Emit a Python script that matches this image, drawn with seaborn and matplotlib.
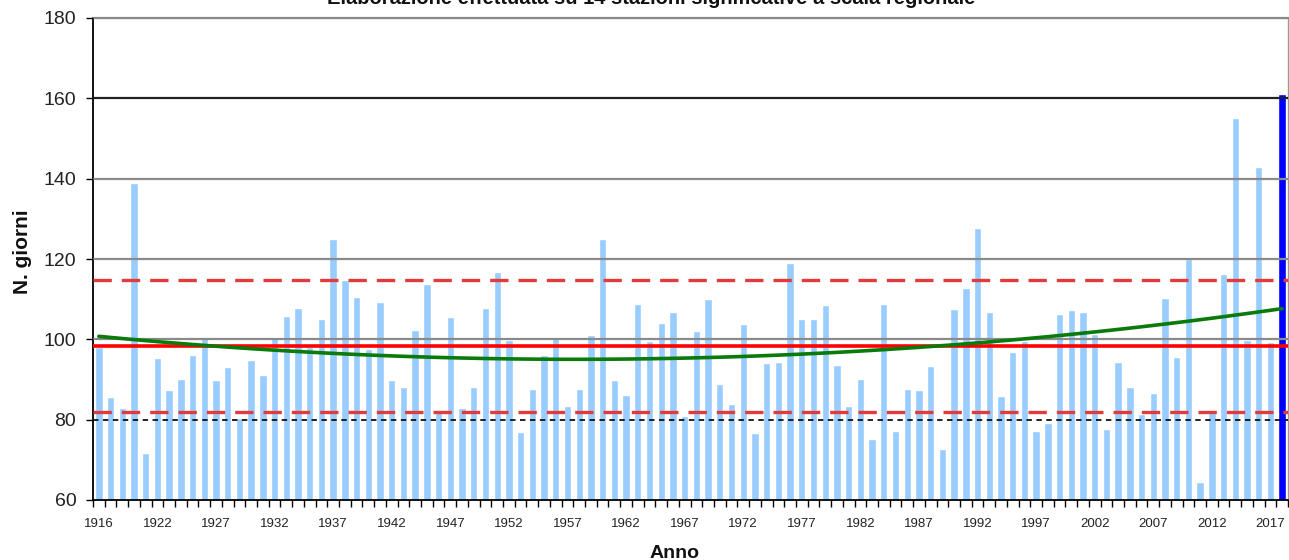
import numpy as np
import pandas as pd
import matplotlib
matplotlib.use("Agg")
import matplotlib.pyplot as plt
import seaborn as sns

# Numero di giorni per anno (media su 14 stazioni)
anni = list(range(1917, 2019))
giorni = [
    98.0, 85.7, 82.8, 138.8, 71.6, 95.3, 87.4, 90.1, 96.1, 100.5,
    90.0, 93.0, 80.3, 94.9, 91.0, 100.5, 105.9, 107.7, 98.2, 105.0,
    125.1, 114.8, 110.6, 97.5, 109.4, 89.9, 88.2, 102.3, 113.9, 82.0,
    105.5, 82.8, 88.2, 107.8, 116.8, 99.8, 77.0, 87.6, 96.1, 100.6,
    83.4, 87.6, 101.1, 125.0, 90.0, 86.2, 108.7, 99.7, 104.1, 106.9,
    81.0, 102.1, 110.0, 89.0, 83.8, 103.9, 76.6, 94.2, 94.4, 118.9,
    105.0, 105.0, 108.5, 93.6, 83.3, 90.2, 75.1, 108.7, 77.1, 87.6,
    87.4, 93.4, 72.8, 107.6, 112.9, 127.7, 106.7, 85.9, 96.8, 99.6,
    77.1, 79.1, 106.4, 107.3, 106.7, 101.3, 77.8, 94.3, 88.2, 81.4,
    86.7, 110.2, 95.5, 119.9, 64.6, 82.2, 116.3, 155.0, 99.8, 142.8,
    99.4, 161.1,
]
etichette_anni = [
    "1916", "1922", "1927", "1932", "1937", "1942", "1947", "1952",
    "1957", "1962", "1967", "1972", "1977", "1982", "1987", "1992",
    "1997", "2002", "2007", "2012", "2017",
]
titolo = "Elaborazione effettuata su 14 stazioni significative a scala regionale"

sns.set_theme(style="white")
plt.rcParams["font.family"] = ["Liberation Sans", "DejaVu Sans"]

df = pd.DataFrame({"anno": anni, "giorni": giorni})
df["serie"] = ["ultimo" if a == anni[-1] else "storico" for a in anni]

W, H = 1289, 560
fig = plt.figure(figsize=(W / 100, H / 100), dpi=100)
ax = fig.add_axes([93 / W, 1 - 500 / H, (1288 - 93) / W, (500 - 18) / H])

sns.barplot(data=df, x="anno", y="giorni", hue="serie",
            palette={"storico": "#99CCFF", "ultimo": "#0000FF"},
            dodge=False, width=0.63, saturation=1, legend=False, ax=ax)

pos = np.arange(len(giorni))
valori = np.array(giorni)

# media e deviazione standard
media = valori.mean()
sd = valori.std(ddof=1)
ax.axhline(media, color="#FF0000", lw=2.6, zorder=4)
for liv in (media + sd, media - sd):
    ax.axhline(liv, color="#E23B3B", lw=2.4, dashes=(5.5, 3), zorder=4)

# tendenza polinomiale di secondo grado
coef = np.polyfit(pos, valori, 2)
ax.plot(pos, np.polyval(coef, pos), color="#0A7A0A", lw=2.6, zorder=5)

# assi
ax.set_ylim(60, 180)
ax.set_xlim(-0.5, len(giorni) - 0.5)
yt = list(range(60, 181, 20))
ax.set_yticks(yt)
ax.set_xticks(pos[::5])
ax.set_xticklabels(etichette_anni)
ax.set_xticks(np.arange(-0.5, len(giorni), 1), minor=True)

ax.set_axisbelow(False)
ax.yaxis.grid(True, color="#8a8a8a", lw=1.6)
for gl, v in zip(ax.get_ygridlines(), yt):
    if v == 160:
        gl.set_color("#222222")
    elif v == 80:
        gl.set_color("#111111")
        gl.set_linewidth(1.3)
        gl.set_dashes((3, 2.5))
    elif v == 60:
        gl.set_visible(False)

ax.tick_params(axis="x", which="major", length=0, pad=13, labelsize=9.5,
               labelcolor="#222222", bottom=True)
ax.tick_params(axis="x", which="minor", length=5, width=1, color="black",
               direction="out", bottom=True)
ax.tick_params(axis="y", which="major", length=5, width=1, color="black",
               direction="out", pad=7, labelsize=14, labelcolor="#222222",
               left=True)

for s in ("left", "bottom"):
    ax.spines[s].set_color("black")
    ax.spines[s].set_linewidth(1.3)
ax.spines["top"].set_color("#8a8a8a")
ax.spines["top"].set_linewidth(1.6)
ax.spines["right"].set_color("#9a9a9a")
ax.spines["right"].set_linewidth(1.0)

ax.set_ylabel("N. giorni", fontsize=15, fontweight="bold", color="#111111")
ax.yaxis.set_label_coords(-0.051, 0.515)
ax.set_xlabel("Anno", fontsize=14, fontweight="bold", color="#111111")
ax.xaxis.set_label_coords(0.487, -0.0934)

fig.text(651 / W, 1 - 4 / H, titolo, ha="center", va="baseline",
         fontsize=14.5, fontweight="bold", color="#111111")

fig.savefig("out.png", dpi=100)
